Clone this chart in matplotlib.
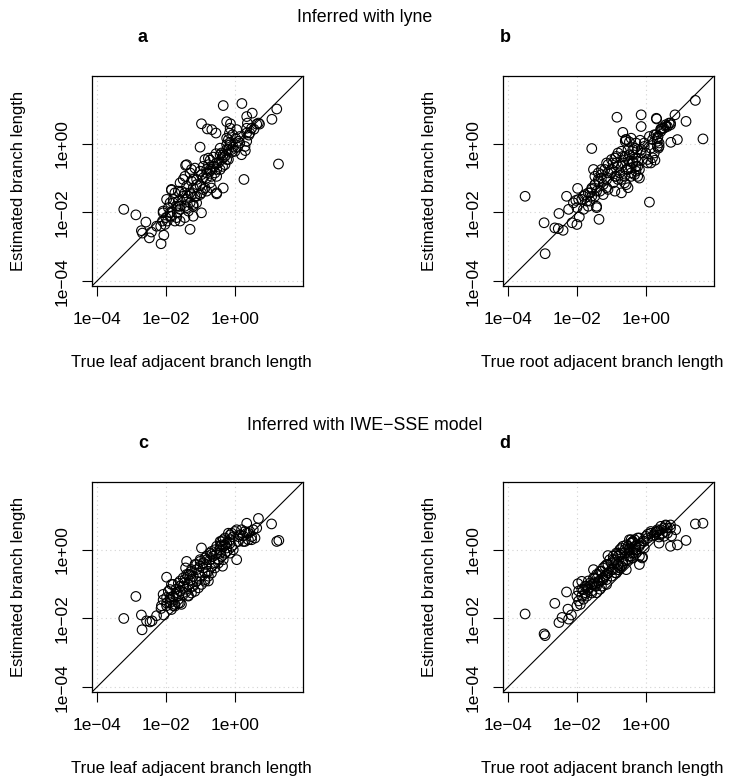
import matplotlib.pyplot as plt
import numpy as np

plt.rcParams['font.family'] = ['Liberation Sans', 'DejaVu Sans']

# log10 values
lyne_leaf_x = [-0.34, 0.20, 1.21, 0.50, 1.07, -0.97, -0.24, -0.13, 0.34, 0.36,
               0.63, 0.71, -0.80, -0.67, -0.55, -1.01, 1.26, 0.26, -0.34, -0.53,
               -3.22, -2.87, -2.58, -2.71, -2.68, -2.42, -2.48, -2.06, -2.14, -1.30,
               -0.97, -1.43, -1.84, -2.27, 0.05, -0.16, -0.14, 0.10, 0.34, 0.40,
               0.30, 0.08, -0.24, -0.10, -0.34, -0.55, -0.39, -0.36, -0.53, -0.72,
               -0.87, -1.16, -1.30, -0.82, -0.97, -1.11, -0.72, -0.87, -1.01, -1.21,
               -1.40, -1.30, -1.50, -1.64, -1.79, -1.88, -1.71, -1.59, -1.45, -1.30,
               -1.21, -1.35, -1.67, -1.88, -2.00, -2.10, -1.96, -2.15, -2.08, -1.93,
               -1.55, -1.16, -1.01, -0.82, -0.68, -0.58, -0.43, -0.29, -0.48, -0.61,
               -0.77, -0.92, -1.01, -0.72, -0.29, -0.19, -0.43, -0.24, -0.05, 0.19,
               0.14, 0.34, 0.43, 0.68, -0.24, -0.39, -0.53, -1.40, -1.11, -1.26,
               -1.50, -1.59, -1.74, -1.64, -1.84, -1.21, -1.45, -1.59, -1.74, -2.03,
               -1.35, -1.11, -0.92, -0.68, -0.77, -0.63, -0.19, 0.00, -0.14, -0.07,
               -0.19, -0.14, -0.10, -0.43, -0.34, -0.24, -0.53, -0.63, -0.72, -0.82,
               -0.92, -1.40, -1.26, -1.45, -1.21, -1.84, -1.64, -1.45, -1.26, -1.11,
               -0.97, -0.82, -0.53, -1.98, -1.79, -1.59, -1.40, -1.21, -2.08, -1.88,
               -1.69, 0.14, 0.29, 0.02, 0.34, 0.48, 0.55]
lyne_leaf_y = [1.11, 1.17, 1.01, 0.89, 0.71, 0.58, 0.64, 0.58, 0.79, 0.60,
               0.57, 0.57, 0.43, 0.41, 0.31, -0.10, -0.59, -1.04, -1.29, -1.46,
               -1.91, -2.07, -2.28, -2.53, -2.60, -2.57, -2.74, -2.66, -2.91, -2.49,
               -2.01, -0.63, -1.35, -2.40, 0.41, 0.31, 0.04, 0.07, 0.07, 0.25,
               -0.20, -0.10, -0.17, -0.25, -0.32, -0.29, -0.46, -0.66, -0.75, -0.48,
               -0.46, -0.71, -0.85, -0.75, -0.90, -1.04, -1.14, -1.29, -1.22, -1.29,
               -1.24, -1.43, -1.53, -1.67, -1.62, -1.72, -1.82, -1.91, -1.82, -1.72,
               -1.82, -1.96, -2.01, -2.01, -2.15, -2.25, -2.25, -2.40, -2.01, -1.86,
               -1.38, -1.53, -1.48, -1.00, -0.95, -0.85, -0.75, -0.61, -0.56, -0.66,
               -0.61, -0.66, -0.80, -0.80, -0.37, -0.46, -0.13, -0.03, -0.10, -0.32,
               0.21, 0.45, 0.31, 0.60, 0.16, -0.27, -0.95, -1.62, -1.19, -1.09,
               -1.04, -1.14, -1.43, -1.82, -2.11, -2.11, -2.15, -2.25, -2.25, -2.35,
               -1.53, -1.72, -1.33, -1.29, -0.42, -0.39, -0.17, -0.22, 0.45, 0.26,
               0.12, -0.03, -0.17, -0.32, -0.41, -0.46, -0.56, -0.66, -0.75, -0.85,
               -0.99, -0.61, -0.75, -0.95, -1.04, -1.33, -1.38, -1.43, -1.48, -1.53,
               -1.43, -1.38, -1.43, -1.62, -1.72, -1.82, -1.86, -1.77, -1.96, -2.11,
               -2.15, 0.02, -0.08, 0.15, 0.31, 0.45, 0.42]

lyne_root_x = [-3.50, -2.95, -2.92, -2.64, -2.54, -2.40, -2.52, -2.30, -2.24, -2.14,
               -2.00, -1.93, -2.00, -2.03, -1.98, -1.57, -1.52, -1.36, -1.43, -0.84,
               -0.67, -0.59, -0.43, -0.17, -0.14, -0.14, 0.10, 0.26, 0.31, -1.86,
               -1.71, -1.76, -1.62, -1.57, -1.48, -1.43, -1.36, -1.29, -1.24, -1.14,
               -1.10, -1.19, -1.00, -0.95, -0.90, -0.81, -0.76, -0.71, -0.67, -0.60,
               -0.52, -0.48, -0.38, -0.29, -0.24, -0.14, -0.05, -0.33, -0.52, -0.71,
               -0.86, -1.00, -1.14, -1.29, -1.38, -1.48, -1.57, -1.67, -1.81, -1.24,
               -1.10, -0.95, -0.86, -0.62, -0.43, -0.57, -0.43, -0.24, -0.10, 0.05,
               0.00, 0.14, 0.24, 0.33, 0.19, 0.35, 0.43, 0.48, 0.57, 0.67,
               1.43, 1.16, 1.65, 0.91, 0.72, 0.84, 0.71, 0.62, 0.52, 0.43,
               0.30, 0.36, 0.38, 0.33, 0.29, -0.38, -0.48, -0.38, -0.24, -0.57,
               -0.48, -0.19, -0.29, -0.33,
               -0.60, -0.29, -0.05, 0.10, 0.24, 0.33, 0.38, 0.43, 0.57, 0.71,
               -0.14, 0.05, 0.14, 0.19, -0.81, -0.67, -0.52, -0.38, -0.29, -0.19,
               -0.24, -0.43, -0.57, -0.71, -0.86, -1.10, -1.29, -1.38, -1.48, -1.57,
               -1.67, -1.81, -1.95, -2.10, -1.00, -0.90, -0.81, -0.62, -0.52, -0.71,
               -0.90, -1.14, -1.33, -1.48, -1.62, -1.43]
lyne_root_y = [-1.53, -2.30, -3.20, -2.45, -2.47, -2.52, -2.03, -1.53, -1.91, -2.30,
               -2.35, -2.13, -1.86, -1.65, -1.30, -0.14, -0.75, -2.20, -1.86, 0.77,
               0.33, 0.12, 0.16, 0.10, 0.50, 0.84, -1.70, -0.48, 0.72, -1.62,
               -1.67, -1.48, -1.43, -1.29, -1.19, -1.38, -1.09, -1.00, -1.19, -1.04,
               -0.85, -0.75, -0.75, -0.56, -0.42, -0.66, -0.85, -1.04, -0.56, -0.37,
               -0.75, -0.51, -0.32, -0.42, -0.17, -0.27, -0.08, -0.13, -0.17, -0.22,
               -0.37, -0.46, -0.56, -0.75, -0.85, -0.95, -1.53, -1.82, -1.91, -1.48,
               -1.33, -1.14, -0.95, -0.95, -0.95, -1.19, -0.70, -0.66, -0.46, -0.56,
               -0.27, -0.13, -0.27, -0.08, 0.12, 0.21, 0.36, 0.45, 0.55, 0.60,
               1.26, 0.65, 0.14, 0.12, 0.04, 0.84, 0.60, 0.50, 0.45, 0.43,
               0.74, -0.13, 0.02, 0.16, 0.26, -0.17, -0.32, -0.51, -0.51, 0.12,
               0.05, -1.00, -0.80, -0.90,
               0.07, 0.02, 0.02, 0.21, 0.26, 0.07, -0.08, 0.41, 0.50, 0.55,
               -0.17, -0.46, -0.56, -0.41, -0.27, -0.37, -0.46, -0.56, -0.66, -0.75,
               -0.95, -0.85, -0.75, -0.66, -0.56, -0.61, -0.90, -1.04, -1.19, -1.33,
               -1.43, -1.53, -1.62, -1.72, -0.85, -0.95, -1.04, -1.14, -1.28, -1.43,
               -1.38, -1.28, -1.38, -1.53, -1.67, -1.82]

iwe_leaf_x = [-3.22, -2.87, -2.69, -2.71, -2.56, -2.46, -2.40, -2.27, -2.06, -2.14,
              -1.98, -1.98, -2.08, -1.88, -1.74, -1.64, -1.55, -1.84, -1.71, -1.59,
              -1.47, -1.35, -1.35, -1.40, -1.43, -1.30, -1.21, -1.11, -1.01, -0.92,
              -0.82, -0.72, -0.63, -0.53, -0.43, -0.34, -0.24, -0.14, -0.05, -0.19,
              -0.97, -0.36, 0.05, -0.05, -0.14, 0.14, 0.29, 0.34, 0.53, 0.58,
              0.68, 0.48, 0.39, 0.24, 0.10, 0.05, 1.06, 1.21, 1.27, -1.30,
              -1.21, -1.11, -1.01, -0.87, -0.77, -0.68, -0.58, -0.48, -0.39, -0.29,
              -0.24, -0.34, -0.43, -0.58, -0.72, -0.87, -1.01, -1.16, -1.26, -1.40,
              -1.50, -1.59, -1.69, -1.79, -1.88, -1.50, -1.40, -1.26, -1.06, -0.92,
              -0.82, -0.68, -0.53, -0.39, -0.29, -0.14, 0.00, 0.19, 0.24, 0.34,
              0.43, -0.10, -0.77, -0.87, -1.64, -1.98, -1.79, -2.13,
              0.63, 0.39, -0.10, 0.10, 0.29, 0.48, -0.14, -0.29, -0.39, -0.24,
              -0.43, -0.34, -0.48, -0.58, -0.68, -0.77, -0.87, -0.97, -1.06, -1.16,
              -1.26, -1.35, -1.50, -1.59, -1.69, -1.79, -1.88, -1.98, -2.08, -1.88,
              -1.79, -1.64, -1.45, -1.35, -1.26, -1.11, -1.01, -0.82, -0.68, -0.43,
              -1.59, -1.74, -1.84, -1.93]
iwe_leaf_y = [-2.00, -1.36, -2.33, -1.90, -2.07, -2.10, -2.07, -1.92, -1.90, -1.71,
              -0.80, -1.39, -1.46, -1.54, -1.59, -1.56, -1.59, -1.01, -1.15, -1.06,
              -0.96, -1.01, -1.33, -0.34, -0.53, -0.72, -0.77, -0.58, -0.48, -0.53,
              -0.43, -0.29, -0.19, -0.10, 0.00, 0.10, 0.19, 0.29, 0.38, 0.48,
              0.05, -0.48, -0.29, 0.00, -0.10, 0.43, 0.53, 0.77, 0.58, 0.34,
              0.91, 0.38, 0.29, 0.24, 0.38, 0.58, 0.75, 0.24, 0.27, -0.91,
              -1.06, -0.91, -0.77, -0.67, -0.63, -0.48, -0.38, -0.29, -0.19, -0.10,
              0.05, 0.29, 0.24, 0.00, -0.10, -0.24, -0.34, -0.43, -0.58, -0.72,
              -0.82, -0.91, -1.25, -1.35, -1.39, -1.25, -1.15, -0.87, -0.67, -0.38,
              -0.29, -0.14, 0.10, 0.14, 0.34, 0.43, 0.53, 0.58, 0.40, 0.48,
              0.53, 0.10, -0.91, -0.87, -1.35, -1.63, -1.63, -1.63,
              0.63, 0.48, 0.48, 0.24, 0.24, 0.29, 0.19, 0.14, 0.24, -0.05,
              -0.10, -0.29, -0.39, -0.53, -0.68, -0.77, -0.92, -1.01, -1.11, -1.21,
              -1.26, -1.35, -1.06, -1.21, -1.30, -1.37, -1.45, -1.55, -1.30, -1.16,
              -1.01, -0.97, -0.87, -0.72, -0.63, -0.43, -0.29, -0.19, -0.05, 0.10,
              -1.55, -1.64, -1.74, -1.21]

iwe_root_x = [-3.50, -2.95, -2.92, -2.52, -2.43, -2.24, -2.16, -2.26, -2.64, -2.30,
              -1.97, -2.00, -1.90, -1.95, -1.86, -1.76, -1.67, -1.57, -1.48, -1.38,
              -1.29, -1.24, -1.19, -1.10, -1.14, -1.33, -1.43, -1.52, -1.10, -1.00,
              -0.90, -0.81, -0.71, -0.62, -0.52, -0.43, -0.33, -0.24, -0.14, -0.19,
              -0.10, -0.57, -0.71, -0.81, -0.90, -1.00, -0.43, -0.19, 0.14, 0.33,
              0.48, 0.62, 0.71, 0.38, 0.24, 1.43, 1.65, 1.16, 0.91, 0.71,
              0.86, 0.71, 0.57, 0.52, 0.43, 0.33, 0.28, 0.05, 0.74, -0.19,
              -0.11, -0.40, -0.05, -0.19, -0.29, -0.38, -0.48, -0.57, -0.67, -0.76,
              -0.86, -0.08, 0.05, 0.19, 0.38, 0.57, -1.67, -1.57, -1.48, -1.38,
              -1.29, -1.19, -1.10, -0.95, -0.86, -0.76, -0.67, -0.57, -0.48, -0.38,
              -0.29, -0.29, -0.43, -0.52, -0.67, -0.81, -1.00, -1.14, -1.24, -1.33,
              -1.43, -1.76, -1.86, -1.95, -1.81, -1.71, -2.00,
              0.43, 0.57, 0.29, 0.14, 0.00, -0.38, -0.48, -0.71, -0.86, -0.95,
              -1.05, -1.14, -1.24, -1.33, -1.43, -1.52, -1.62, -1.71, -1.81, -0.76,
              -0.62, -0.48, -0.33, -0.19, -0.05, -0.67, -0.81, -0.95, -1.10, -1.24,
              -1.38, -1.52, -1.67, -0.38, -0.48, 0.38, 0.52, 0.62, -1.14, -0.86,
              -1.76, -1.57, -1.86]
iwe_root_y = [-1.87, -2.45, -2.50, -2.12, -1.97, -2.02, -1.90, -1.73, -1.56, -1.23,
              -0.99, -1.35, -1.59, -1.49, -1.35, -1.25, -1.15, -1.20, -1.06, -0.96,
              -1.06, -0.87, -0.77, -0.67, -1.01, -1.15, -1.25, -0.58, -0.17, -0.38,
              -0.29, -0.19, -0.10, 0.00, 0.10, 0.19, 0.29, 0.34, 0.19, -0.19,
              -0.21, -0.58, -0.48, -0.58, -0.67, -0.77, 0.29, 0.34, 0.53, 0.58,
              0.48, 0.63, 0.72, 0.37, 0.43, 0.75, 0.77, 0.27, 0.14, 0.10,
              0.58, 0.63, 0.70, 0.63, 0.58, 0.53, 0.50, 0.45, 0.40, -0.43,
              -0.24, 0.22, 0.05, 0.10, 0.00, -0.10, -0.19, -0.29, -0.43, -0.53,
              -0.38, 0.26, 0.34, 0.40, 0.43, 0.53, -0.91, -1.01, -0.82, -0.72,
              -0.63, -0.48, -0.43, -0.29, -0.14, 0.00, 0.10, 0.14, 0.05, 0.00,
              0.10, -0.10, -0.19, -0.29, -0.34, -0.43, -0.58, -0.72, -0.82, -0.91,
              -1.06, -1.06, -1.15, -1.20, -1.44, -1.35, -1.63,
              0.68, 0.72, 0.53, 0.48, 0.39, 0.24, 0.29, 0.05, -0.10, -0.19,
              -0.29, -0.43, -0.53, -0.63, -0.72, -0.82, -0.97, -1.06, -1.16, -0.14,
              -0.10, 0.00, 0.10, 0.14, 0.24, -0.39, -0.48, -0.58, -0.68, -0.82,
              -0.92, -1.01, -1.11, -0.24, -0.10, 0.19, 0.39, 0.48, -0.87, -0.68,
              -1.30, -1.26, -0.92]

lim_lo = -4.14
lim_hi = 1.97
tick_vals = [1e-4, 1e-2, 1e0]
tick_labels = ['1e\u221204', '1e\u221202', '1e+00']

fig = plt.figure(figsize=(7.3, 7.82), dpi=100)
W, H = 730.0, 782.0

panels = [
    (lyne_leaf_x, lyne_leaf_y, 92, 286, 'a', 'True leaf adjacent branch length'),
    (lyne_root_x, lyne_root_y, 503, 286, 'b', 'True root adjacent branch length'),
    (iwe_leaf_x, iwe_leaf_y, 92, 692, 'c', 'True leaf adjacent branch length'),
    (iwe_root_x, iwe_root_y, 503, 692, 'd', 'True root adjacent branch length'),
]

for xs, ys, left, bottom, letter, xlab in panels:
    ax = fig.add_axes([left / W, 1 - bottom / H, 211 / W, 210 / H])
    ax.set_xscale('log')
    ax.set_yscale('log')
    ax.set_xlim(10 ** lim_lo, 10 ** lim_hi)
    ax.set_ylim(10 ** lim_lo, 10 ** lim_hi)
    for t in tick_vals:
        ax.axvline(t, color='#d3d3d3', lw=0.8, ls=(0, (1, 3)), zorder=0)
        ax.axhline(t, color='#d3d3d3', lw=0.8, ls=(0, (1, 3)), zorder=0)
    ax.plot([10 ** lim_lo, 10 ** lim_hi], [10 ** lim_lo, 10 ** lim_hi],
            color='k', lw=0.8, zorder=1)
    ax.scatter(10 ** np.array(xs), 10 ** np.array(ys), s=48,
               facecolors='none', edgecolors='k', linewidths=0.8, zorder=2)
    ax.set_xticks(tick_vals)
    ax.set_xticklabels(tick_labels)
    ax.set_yticks(tick_vals)
    ax.set_yticklabels(tick_labels, rotation=90, va='center')
    ax.minorticks_off()
    ax.tick_params(axis='both', length=7, width=0.8, labelsize=12.5)
    ax.tick_params(axis='x', pad=12)
    ax.tick_params(axis='y', pad=9)
    for s in ax.spines.values():
        s.set_linewidth(0.9)
    ax.set_xlabel(xlab, fontsize=12.1)
    # label sits a little left of the box centre, as in the original
    ax.xaxis.set_label_coords(0.47, -69 / 210)
    ax.set_ylabel('Estimated branch length', fontsize=12, labelpad=21)

    top = bottom - 210
    lx = 143 if left < 300 else 505
    fig.text(lx / W, 1 - (top - 39) / H, letter, fontsize=13, fontweight='bold',
             ha='center', va='center')

fig.text(365 / W, 1 - 17 / H, 'Inferred with lyne', fontsize=12.8,
         ha='center', va='center')
fig.text(365 / W, 1 - 425 / H, 'Inferred with IWE\u2212SSE model', fontsize=12.8,
         ha='center', va='center')

fig.savefig('out.png', dpi=100)
